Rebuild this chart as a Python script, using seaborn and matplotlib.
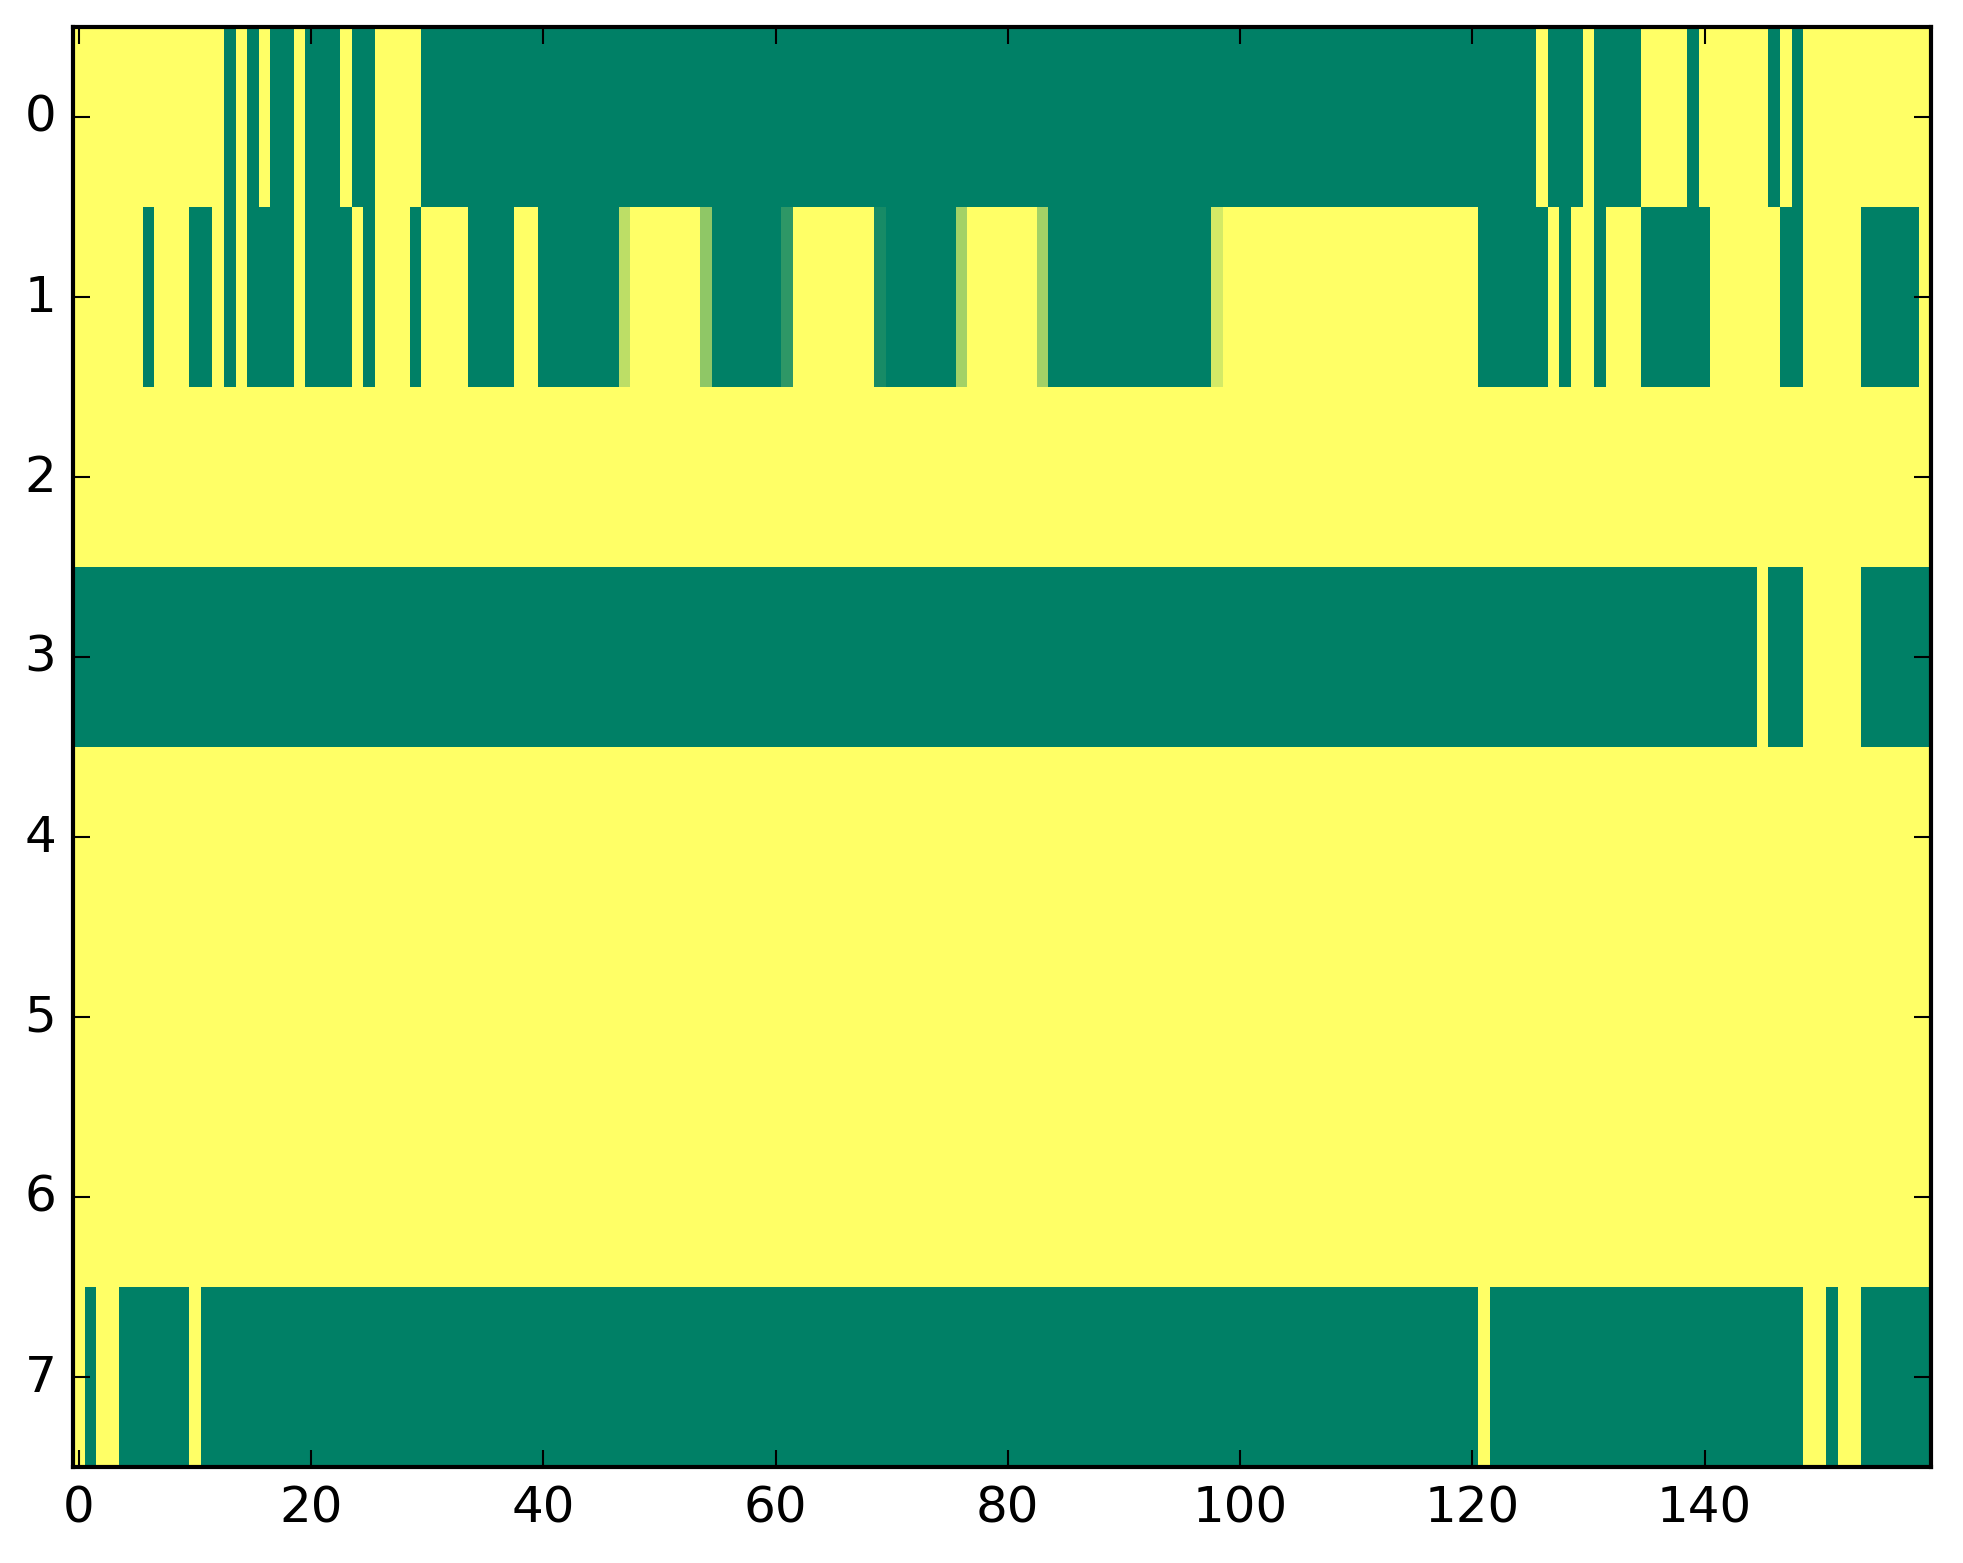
import numpy as np
import pandas as pd
import matplotlib
matplotlib.use("Agg")
import matplotlib.pyplot as plt
import seaborn as sns

# ---- data (run-length encoded rows: (value, count)) ----
row0_runs = [(1, 13), (0, 1), (1, 1), (0, 1), (1, 1), (0, 2), (1, 1), (0, 3), (1, 1),
             (0, 2), (1, 4), (0, 96), (1, 1), (0, 3), (1, 1), (0, 4), (1, 4), (0, 1),
             (1, 6), (0, 1), (1, 1), (0, 1), (1, 11)]
row1_runs = [(1, 6), (0, 1), (1, 3), (0, 2), (1, 1), (0, 1), (1, 1), (0, 4), (1, 1),
             (0, 4), (1, 1), (0, 1), (1, 3), (0, 1), (1, 4), (0, 4), (1, 2), (0, 7),
             (0.74, 1), (1, 6), (0.56, 1), (0, 6), (0.18, 1), (1, 7), (0.09, 1), (0, 6),
             (0.64, 1), (1, 6), (0.64, 1), (0, 14), (0.83, 1), (1, 22), (0, 6), (1, 1),
             (0, 1), (1, 2), (0, 1), (1, 3), (0, 6), (1, 6), (0, 2), (1, 5), (0, 5), (1, 1)]
row2_runs = [(1, 160)]
row3_runs = [(0, 145), (1, 1), (0, 3), (1, 5), (0, 6)]
row4_runs = [(1, 160)]
row5_runs = [(1, 160)]
row6_runs = [(1, 160)]
row7_runs = [(1, 1), (0, 1), (1, 2), (0, 6), (1, 1), (0, 110), (1, 1), (0, 27),
             (1, 2), (0, 1), (1, 2), (0, 6)]

x_ticks = [0, 20, 40, 60, 80, 100, 120, 140]
y_ticks = [0, 1, 2, 3, 4, 5, 6, 7]

rows = [row0_runs, row1_runs, row2_runs, row3_runs, row4_runs, row5_runs, row6_runs, row7_runs]


def expand(runs):
    out = []
    for v, n in runs:
        out.extend([v] * n)
    return out


matrix = pd.DataFrame([expand(r) for r in rows])

plt.style.use("classic")
plt.rcParams["font.family"] = ["DejaVu Sans"]

W, H = 1963, 1564
fig = plt.figure(figsize=(W / 300, H / 300), dpi=300)
ax = fig.add_axes([73 / W, 1 - 1468 / H, (1931 - 73) / W, (1468 - 27.5) / H])

sns.heatmap(matrix, cmap="summer", vmin=0, vmax=1, cbar=False, ax=ax,
            xticklabels=False, yticklabels=False)

for s in ax.spines.values():
    s.set_visible(True)
    s.set_linewidth(1.0)
    s.set_color("black")

ax.set_xticks(np.array(x_ticks) + 0.5)
ax.set_xticklabels([str(t) for t in x_ticks], rotation=0)
ax.set_yticks(np.array(y_ticks) + 0.5)
ax.set_yticklabels([str(t) for t in y_ticks], rotation=0, va="center")
ax.tick_params(direction="in", top=True, right=True, bottom=True, left=True,
               length=4, width=0.5, labelsize=12, pad=4)
ax.tick_params(axis="x", labeltop=False)
ax.tick_params(axis="y", labelright=False)
ax.set_xlabel("")
ax.set_ylabel("")

fig.savefig("out.png", dpi=300, facecolor="white")
